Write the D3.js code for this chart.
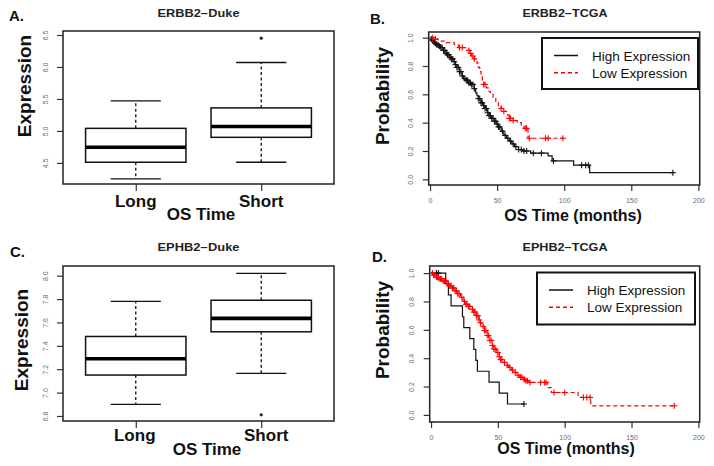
<!DOCTYPE html>
<html lang="en">
<head>
<meta charset="UTF-8">
<title>ERBB2 / EPHB2 expression and survival</title>
<script src="https://cdn.jsdelivr.net/npm/d3@7"></script>
<style>
  body { margin: 0; background: #fff; }
  svg { font-family: "Liberation Sans", Arial, Helvetica, sans-serif; }
</style>
</head>
<body>
<script>
// ---- data ----
const groups = ["Long", "Short"];
// min, q1, median, q3, max for each group
const erbb2DukeBox = [[4.25, 4.51, 4.745, 5.04, 5.47], [4.51, 4.90, 5.07, 5.36, 6.07]];
const erbb2DukeOut = [[], [6.45]];
const ephb2DukeBox = [[6.90, 7.15, 7.29, 7.48, 7.78], [7.165, 7.52, 7.635, 7.79, 8.02]];
const ephb2DukeOut = [[], [6.81]];
const erbb2Ticks = [4.5, 5.0, 5.5, 6.0, 6.5];
const ephb2Ticks = [6.8, 7.0, 7.2, 7.4, 7.6, 7.8, 8.0];
const monthTicks = [0, 50, 100, 150, 200];
const probTicks = [0, 0.2, 0.4, 0.6, 0.8, 1.0];
const legendLabels = ["High Expression", "Low Expression"];

// Kaplan-Meier steps: [month, survival after the drop]
const erbb2HighSteps = [[0,1],[1,0.99],[2,0.98],[3,0.97],[4,0.96],[5,0.95],[7,0.94],[8,0.93],[10,0.91],[12,0.89],[13,0.88],[15,0.86],[16,0.85],[18,0.83],[19,0.81],[20,0.79],[22,0.76],[24,0.73],[25,0.71],[27,0.70],[29,0.68],[31,0.67],[33,0.64],[34,0.61],[35,0.59],[36,0.57],[38,0.54],[40,0.52],[41,0.50],[43,0.47],[44,0.45],[46,0.43],[48,0.41],[50,0.39],[51,0.37],[53,0.34],[55,0.31],[57,0.29],[59,0.27],[61,0.25],[63,0.23],[66,0.21],[69,0.20],[75,0.185],[88,0.165],[91,0.13],[107,0.10],[119,0.047]];
const erbb2HighCensor = [1,2,3,4,5,6,7,8,9,10,11,12,13,14,15,16,17,18,19,20,21,22,23,24,26,27,28,29,30,31,32,33,36,37,38,39,40,41,42,43,44,45,46,47,48,49,50,51,52,54,56,58,60,62,64,66,68,70,72,77,83,92,113,116,118,181];
const erbb2LowSteps = [[0,1],[3,0.99],[6,0.976],[12,0.965],[18,0.95],[21,0.93],[27,0.91],[30,0.89],[31,0.87],[33,0.85],[35,0.82],[36,0.79],[37,0.76],[38,0.73],[39,0.70],[40,0.67],[42,0.645],[44,0.62],[45,0.60],[47,0.58],[49,0.55],[51,0.52],[53,0.50],[55,0.48],[57,0.455],[59,0.43],[62,0.415],[65,0.40],[68,0.38],[70,0.36],[73,0.29]];
const erbb2LowCensor = [2,4,22,24,29,30,32,33,40,41,53,55,59,60,62,71,72,74,86,88,99];

const ephb2HighSteps = [[0,1],[11,0.923],[13,0.846],[15,0.769],[23.5,0.692],[24.5,0.615],[29,0.538],[32,0.462],[33.5,0.385],[34.7,0.308],[43.4,0.231],[51,0.154],[57.2,0.077]];
const ephb2HighCensor = [4, 5.5, 69.5];
const ephb2LowSteps = [[0,1],[2,0.985],[4,0.97],[6,0.96],[9,0.945],[12,0.925],[14,0.91],[16,0.895],[18,0.875],[20,0.855],[22,0.83],[24,0.80],[26,0.78],[28,0.765],[30,0.745],[32,0.725],[34,0.70],[36,0.67],[37,0.65],[38,0.625],[40,0.595],[42,0.56],[44,0.525],[46,0.49],[47,0.465],[49,0.44],[51,0.41],[52,0.39],[54,0.37],[56,0.35],[58,0.335],[60,0.315],[62,0.30],[64,0.28],[66,0.265],[69,0.25],[71,0.24],[73,0.229],[87,0.193],[90,0.158],[110,0.123],[119.5,0.064]];
const ephb2LowCensor = [1,2,3,4,5,6,7,8,9,10,11,12,13,14,15,16,17,18,19,20,21,23,25,26,27,28,29,31,32,33,34,35,36,37,39,40,41,42,43,44,45,46,47,48,50,51,52,53,55,57,59,61,63,65,67,68,70,71,72,74,82,85,86,92,100,114,116.5,119,182];

// ---- drawing ----
const W = 714, H = 466;
const svg = d3.select("body").append("svg").attr("width", W).attr("height", H);
const fmt1 = d3.format(".1f");

function panelLetter(text, x, y) {
  svg.append("text").attr("x", x).attr("y", y)
    .attr("font-size", 15).attr("font-weight", "bold").attr("fill", "#111").text(text);
}

function panelTitle(text, cx, y, len) {
  svg.append("text").attr("x", cx).attr("y", y).attr("text-anchor", "middle")
    .attr("font-size", 10).attr("font-weight", "bold").attr("fill", "#222")
    .attr("textLength", len).attr("lengthAdjust", "spacingAndGlyphs")
    .text(text);
}

function yLabel(text, x, cy) {
  svg.append("text").attr("transform", `translate(${x},${cy}) rotate(-90)`)
    .attr("text-anchor", "middle").attr("font-size", 19).attr("font-weight", "bold")
    .attr("fill", "#111").text(text);
}

function yAxisRotated(g, x0, y, ticks, format) {
  const ax = g.append("g").attr("transform", `translate(${x0},0)`)
    .call(d3.axisLeft(y).tickValues(ticks).tickSize(6).tickFormat(format));
  ax.select(".domain").remove();
  ax.selectAll(".tick line").attr("stroke", "#333").attr("stroke-width", 1.2);
  ax.selectAll(".tick text")
    .attr("x", null).attr("dy", null)
    .attr("transform", "translate(-15.5,0) rotate(-90)")
    .attr("text-anchor", "middle").attr("font-size", 7).attr("fill", "#6a6a7a");
  return ax;
}

function boxPanel(cfg) {
  const g = svg.append("g");
  const x = d3.scaleLinear().domain([0.42, 2.58]).range([cfg.x0, cfg.x1]);
  const y = d3.scaleLinear().domain(cfg.yDomain).range([cfg.y1, cfg.y0]);
  const bw = x(1.4) - x(1);

  yAxisRotated(g, cfg.x0, y, cfg.ticks, fmt1);

  const xa = g.append("g").attr("transform", `translate(0,${cfg.y1})`)
    .call(d3.axisBottom(x).tickValues([1, 2]).tickSize(7).tickFormat(""));
  xa.select(".domain").remove();
  xa.selectAll(".tick line").attr("stroke", "#333").attr("stroke-width", 1.2);

  cfg.stats.forEach((s, i) => {
    const cx = x(i + 1);
    // whiskers
    g.append("line").attr("x1", cx).attr("x2", cx).attr("y1", y(s[3])).attr("y2", y(s[4]))
      .attr("stroke", "#111").attr("stroke-width", 1.3).attr("stroke-dasharray", "3,2.5");
    g.append("line").attr("x1", cx).attr("x2", cx).attr("y1", y(s[1])).attr("y2", y(s[0]))
      .attr("stroke", "#111").attr("stroke-width", 1.3).attr("stroke-dasharray", "3,2.5");
    // caps
    [s[0], s[4]].forEach(v => {
      g.append("line").attr("x1", cx - bw / 2).attr("x2", cx + bw / 2).attr("y1", y(v)).attr("y2", y(v))
        .attr("stroke", "#111").attr("stroke-width", 1.3);
    });
    g.append("rect").attr("x", cx - bw).attr("width", 2 * bw)
      .attr("y", y(s[3])).attr("height", y(s[1]) - y(s[3]))
      .attr("fill", "#fff").attr("stroke", "#111").attr("stroke-width", 1.5);
    g.append("line").attr("x1", cx - bw).attr("x2", cx + bw).attr("y1", y(s[2])).attr("y2", y(s[2]))
      .attr("stroke", "#000").attr("stroke-width", 3.6);
    cfg.outliers[i].forEach(v => {
      g.append("circle").attr("cx", cx).attr("cy", y(v)).attr("r", 1.6).attr("fill", "#222");
    });
    g.append("text").attr("x", cx + (cfg.labelShift[i] || 0)).attr("y", cfg.catY)
      .attr("text-anchor", "middle").attr("font-size", 17).attr("font-weight", "bold")
      .attr("fill", "#111").text(groups[i]);
  });

  g.append("rect").attr("x", cfg.x0).attr("y", cfg.y0)
    .attr("width", cfg.x1 - cfg.x0).attr("height", cfg.y1 - cfg.y0)
    .attr("fill", "none").attr("stroke", "#222").attr("stroke-width", 1.5);

  g.append("text").attr("x", cfg.osX).attr("y", cfg.osY).attr("text-anchor", "middle")
    .attr("font-size", 17).attr("font-weight", "bold").attr("fill", "#111").text("OS Time");
  yLabel("Expression", cfg.ylabX, cfg.ylabY);
  panelTitle(cfg.title, (cfg.x0 + cfg.x1) / 2, cfg.titleY, 82);
  panelLetter(cfg.letter, cfg.letterX, cfg.letterY);
}

function kmPanel(cfg) {
  const g = svg.append("g");
  const x = d3.scaleLinear().domain([-1, 201]).range([cfg.x0, cfg.x1]);
  const y = d3.scaleLinear().domain(cfg.yDomain).range([cfg.y1, cfg.y0]);

  yAxisRotated(g, cfg.x0, y, probTicks, fmt1);
  const xa = g.append("g").attr("transform", `translate(0,${cfg.y1})`)
    .call(d3.axisBottom(x).tickValues(monthTicks).tickSize(6).tickPadding(7).tickFormat(d3.format("d")));
  xa.select(".domain").remove();
  xa.selectAll(".tick line").attr("stroke", "#333").attr("stroke-width", 1.2);
  xa.selectAll(".tick text").attr("font-size", 7).attr("fill", "#6a6a7a");

  const line = d3.line().x(d => x(d[0])).y(d => y(d[1])).curve(d3.curveStepAfter);
  const bis = d3.bisector(d => d[0]).right;

  cfg.curves.forEach(c => {
    const last = c.steps[c.steps.length - 1];
    const end = Math.max(last[0], d3.max(c.censor));
    const pts = c.steps.concat([[end, last[1]]]);
    g.append("path").attr("d", line(pts)).attr("fill", "none")
      .attr("stroke", c.color).attr("stroke-width", 1.2)
      .attr("stroke-dasharray", c.dash);
    const marks = g.append("g").attr("stroke", c.color).attr("stroke-width", 1.1);
    c.censor.forEach(t => {
      const s = c.steps[bis(c.steps, t) - 1][1];
      const px = x(t), py = y(s);
      marks.append("line").attr("x1", px - 3).attr("x2", px + 3).attr("y1", py).attr("y2", py);
      marks.append("line").attr("x1", px).attr("x2", px).attr("y1", py - 3).attr("y2", py + 3);
    });
  });

  g.append("rect").attr("x", cfg.x0).attr("y", cfg.y0)
    .attr("width", cfg.x1 - cfg.x0).attr("height", cfg.y1 - cfg.y0)
    .attr("fill", "none").attr("stroke", "#222").attr("stroke-width", 1.5);

  // legend
  const L = cfg.legend;
  g.append("rect").attr("x", L.x).attr("y", L.y).attr("width", L.w).attr("height", L.h)
    .attr("fill", "#fff").attr("stroke", "#111").attr("stroke-width", 2);
  cfg.curves.forEach((c, i) => {
    const ly = L.y + 17.5 + i * 17.2;
    g.append("line").attr("x1", L.x + 12).attr("x2", L.x + 36).attr("y1", ly).attr("y2", ly)
      .attr("stroke", c.color).attr("stroke-width", 1.5).attr("stroke-dasharray", c.dash);
    g.append("text").attr("x", L.x + 50).attr("y", ly + 5).attr("font-size", 13.5)
      .attr("fill", "#111").text(legendLabels[i]);
  });

  g.append("text").attr("x", cfg.osX).attr("y", cfg.osY).attr("text-anchor", "middle")
    .attr("font-size", 16).attr("font-weight", "bold").attr("fill", "#111").text("OS Time (months)");
  yLabel("Probability", cfg.ylabX, cfg.ylabY);
  panelTitle(cfg.title, cfg.titleX, cfg.titleY, 85);
  panelLetter(cfg.letter, cfg.letterX, cfg.letterY);
}

boxPanel({
  x0: 63, x1: 334, y0: 31, y1: 184, yDomain: [4.17, 6.5625], ticks: erbb2Ticks,
  stats: erbb2DukeBox, outliers: erbb2DukeOut, labelShift: [0, 0],
  catY: 207, osX: 201, osY: 220, ylabX: 31, ylabY: 86,
  title: "ERBB2\u2212Duke", titleY: 16.5, letter: "A.", letterX: 9, letterY: 21
});

boxPanel({
  x0: 63, x1: 334, y0: 266, y1: 421, yDomain: [6.757, 8.083], ticks: ephb2Ticks,
  stats: ephb2DukeBox, outliers: ephb2DukeOut, labelShift: [-1, 5],
  catY: 441, osX: 207, osY: 455, ylabX: 28, ylabY: 340,
  title: "EPHB2\u2212Duke", titleY: 250.5, letter: "C.", letterX: 10, letterY: 257
});

kmPanel({
  x0: 428.7, x1: 699.7, y0: 32, y1: 185, yDomain: [-0.04, 1.04],
  curves: [
    { steps: erbb2HighSteps, censor: erbb2HighCensor, color: "#111", dash: null },
    { steps: erbb2LowSteps, censor: erbb2LowCensor, color: "#f00", dash: "4,3" }
  ],
  legend: { x: 542, y: 38, w: 156, h: 51 },
  osX: 573, osY: 221, ylabX: 389, ylabY: 96,
  title: "ERBB2\u2212TCGA", titleX: 565, titleY: 16.5, letter: "B.", letterX: 370, letterY: 24
});

kmPanel({
  x0: 429.7, x1: 699.7, y0: 266, y1: 422, yDomain: [-0.05, 1.05],
  curves: [
    { steps: ephb2HighSteps, censor: ephb2HighCensor, color: "#111", dash: null },
    { steps: ephb2LowSteps, censor: ephb2LowCensor, color: "#f00", dash: "4,3" }
  ],
  legend: { x: 537, y: 272.5, w: 158, h: 52 },
  osX: 566, osY: 454, ylabX: 389, ylabY: 330,
  title: "EPHB2\u2212TCGA", titleX: 565, titleY: 251, letter: "D.", letterX: 372, letterY: 262
});
</script>
</body>
</html>
